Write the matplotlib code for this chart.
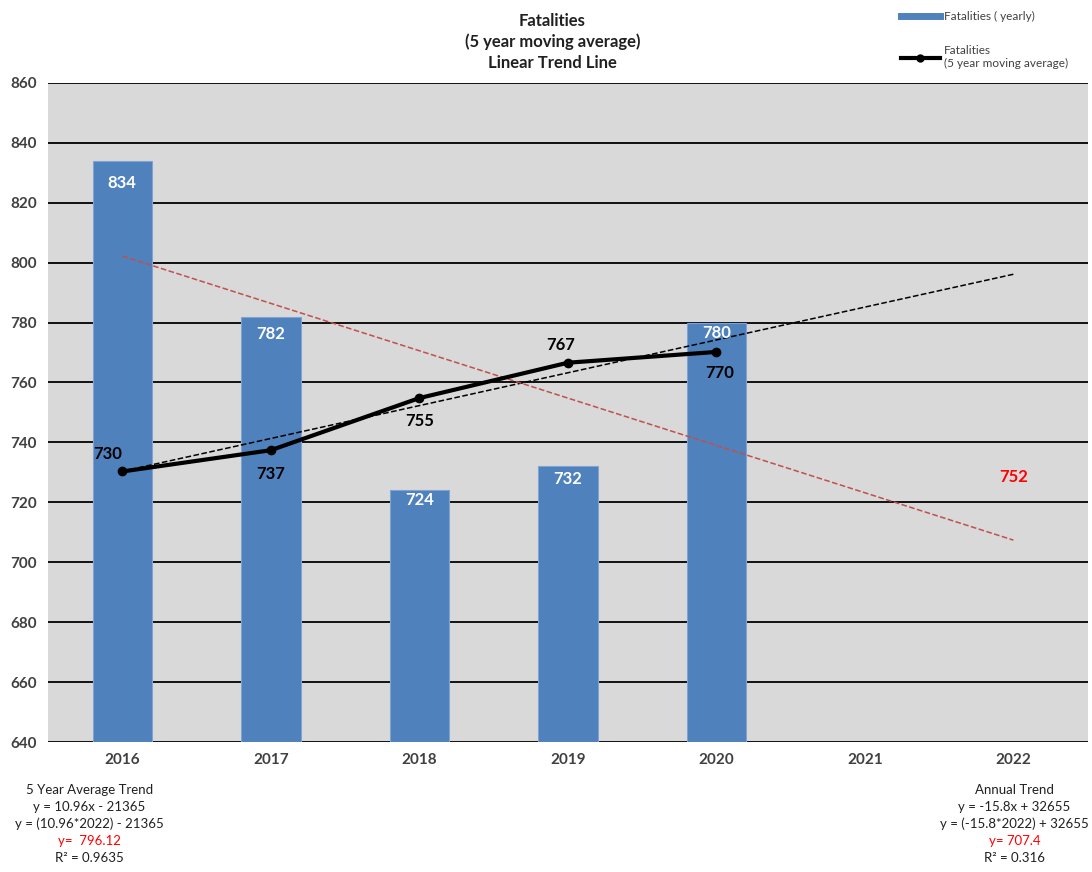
import matplotlib
matplotlib.use("Agg")
import matplotlib.pyplot as plt
from matplotlib.lines import Line2D

plt.rcParams['font.family'] = ['Lato', 'DejaVu Sans']

# data
years = ['2016', '2017', '2018', '2019', '2020', '2021', '2022']
yearly = [834, 782, 724, 732, 780]
moving_avg = [730.3, 737.4, 754.8, 766.6, 770.2]
moving_lbl = ['730', '737', '755', '767', '770']
avg_trend = (10.96, -21365)     # slope, intercept
annual_trend = (-15.8, 32655)
forecast_2022 = 752

fig = plt.figure(figsize=(10.92, 8.72), dpi=100, facecolor='w')
ax = fig.add_axes([0.044, 0.149, 0.952, 0.756])
ax.set_facecolor('#d9d9d9')

x = list(range(len(years)))
xb = x[:len(yearly)]
ax.bar(xb, [v - 640 for v in yearly], bottom=640, width=0.4, color='#4f81bd',
       edgecolor='#7fa3d3', linewidth=0.8, zorder=2)
bar_offs = [7.3, 5.7, 3.3, 4.3, 3.6]
for xi, v, d in zip(xb, yearly, bar_offs):
    ax.text(xi, v - d, str(v), ha='center', va='center', color='w', fontweight='bold', fontsize=12, zorder=5)

# trend lines
yrs = [2016, 2022]
ax.plot([0, 6], [avg_trend[0] * y + avg_trend[1] for y in yrs], ls='--', color='k', lw=1.1, zorder=3)
ax.plot([0, 6], [annual_trend[0] * y + annual_trend[1] for y in yrs], ls='--', color='#c0504d', lw=1.1, zorder=3)

ax.plot(xb, moving_avg, color='k', lw=3, marker='o', ms=6, zorder=4)
offs = [(-0.1, 6), (0.0, -8), (0.0, -7.8), (-0.05, 6), (0.02, -7)]
for xi, v, l, (dx, dy) in zip(xb, moving_avg, moving_lbl, offs):
    ax.text(xi + dx, v + dy, l, ha='center', va='center', color='k', fontweight='bold', fontsize=12, zorder=5)

ax.text(6, 728.3, str(forecast_2022), ha='center', va='center', color='red', fontweight='bold', fontsize=12)

ax.set_xlim(-0.5, 6.5)
ax.set_ylim(640, 860)
ax.set_yticks(range(640, 861, 20))
ax.set_xticks(x)
ax.set_xticklabels(years)
ax.yaxis.grid(True, color='k', lw=1.3, zorder=1)
ax.set_axisbelow(True)
for s in ax.spines.values():
    s.set_visible(False)
ax.tick_params(length=0, labelsize=11, labelcolor='#404040', pad=8)
for t in ax.get_xticklabels() + ax.get_yticklabels():
    t.set_fontweight('bold')

fig.text(0.506, 0.985, 'Fatalities\n(5 year moving average)\nLinear Trend Line', ha='center', va='top',
         fontsize=12, fontweight='bold', linespacing=1.35, color='#202020')

handles = [Line2D([0], [0], color='#4f81bd', lw=5),
           Line2D([0], [0], color='k', lw=3, marker='o', ms=5)]
fig.legend(handles, ['Fatalities ( yearly)', 'Fatalities\n(5 year moving average)'],
           loc='upper left', bbox_to_anchor=(0.815, 1.0), frameon=False, fontsize=8.5,
           labelcolor='#404040', handlelength=3.3, labelspacing=2.0, handletextpad=0.4)

left_lines = ['5 Year Average Trend', 'y = 10.96x - 21365', 'y = (10.96*2022) - 21365', 'y=  796.12', 'R² = 0.9635']
right_lines = ['Annual Trend', 'y = -15.8x + 32655', 'y = (-15.8*2022) + 32655', 'y= 707.4', 'R² = 0.316']
for i in range(5):
    c = 'red' if i == 3 else '#202020'
    yy = 0.094 - i * 0.0195
    fig.text(0.082, yy, left_lines[i], ha='center', va='center', fontsize=9.5, color=c)
    fig.text(0.929, yy, right_lines[i], ha='center', va='center', fontsize=9.5, color=c)

fig.savefig('out.png', dpi=100)
